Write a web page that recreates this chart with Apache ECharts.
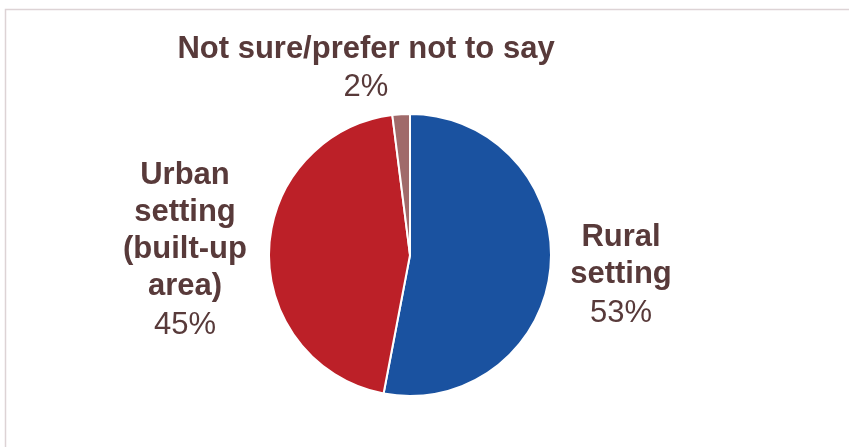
<!DOCTYPE html>
<html>
<head>
<meta charset="utf-8">
<script src="https://cdn.jsdelivr.net/npm/echarts@6/dist/echarts.min.js"></script>
<style>
  html, body { margin: 0; padding: 0; background: #ffffff; }
  #chart { width: 849px; height: 447px; }
</style>
</head>
<body>
<div id="chart"></div>
<script>
// Where respondents live
const categories = ['Rural setting', 'Urban setting (built-up area)', 'Not sure/prefer not to say'];
const labelNames = ['Rural\nsetting', 'Urban\nsetting\n(built-up\narea)', 'Not sure/prefer not to say'];
const shares = [53, 45, 2];
const sliceColors = ['#1a52a0', '#bc2028', '#a06a6a'];

// label block centres, keyed by slice index
const labelSpots = [
  { x: 621, y: 276 },
  { x: 185, y: 251 },
  { x: 366, y: 69 }
];

const textColor = '#583a3a';

const chart = echarts.init(document.getElementById('chart'), null, { renderer: 'canvas' });

chart.setOption({
  animation: false,
  backgroundColor: '#ffffff',
  graphic: [{
    type: 'rect',
    shape: { x: 5.5, y: 9.5, width: 900, height: 500 },
    style: { fill: 'none', stroke: '#ddd3d5', lineWidth: 1.5 },
    silent: true
  }],
  series: [{
    type: 'pie',
    center: [410, 255],
    radius: [0, 141],
    startAngle: 90,
    clockwise: true,
    itemStyle: { borderColor: '#ffffff', borderWidth: 2 },
    data: categories.map((c, i) => ({
      name: c,
      value: shares[i],
      itemStyle: { color: sliceColors[i] }
    })),
    label: {
      show: true,
      position: 'outside',
      alignTo: 'none',
      overflow: 'none',
      width: 500,
      formatter: p => '{n|' + labelNames[p.dataIndex] + '}\n{v|' + p.value + '%}',
      align: 'center',
      rich: {
        n: {
          fontFamily: 'Liberation Sans, Arial, sans-serif',
          fontWeight: 'bold',
          fontSize: 31,
          lineHeight: 37,
          color: textColor,
          align: 'center'
        },
        v: {
          fontFamily: 'Liberation Sans, Arial, sans-serif',
          fontSize: 31,
          lineHeight: 40,
          color: textColor,
          align: 'center'
        }
      }
    },
    labelLine: { show: false },
    labelLayout: params => ({
      x: labelSpots[params.dataIndex].x,
      y: labelSpots[params.dataIndex].y,
      align: 'center',
      verticalAlign: 'middle'
    })
  }]
});
</script>
</body>
</html>
